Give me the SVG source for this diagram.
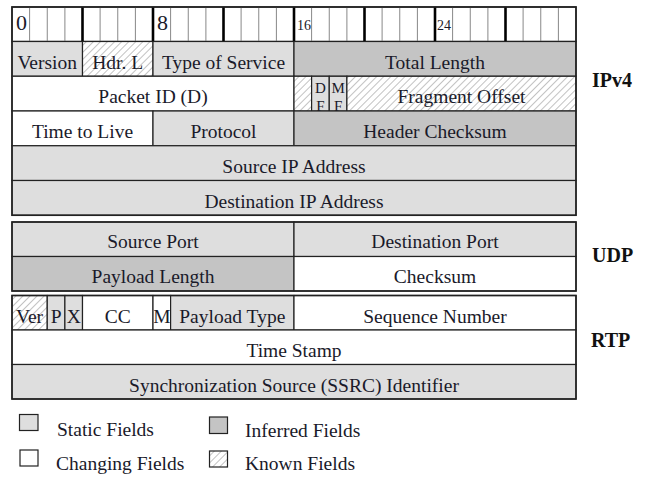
<svg xmlns="http://www.w3.org/2000/svg" width="648" height="477" viewBox="0 0 648 477">
<defs>
<pattern id="hatch" patternUnits="userSpaceOnUse" width="5" height="5" patternTransform="rotate(45)">
<rect width="5" height="5" fill="#ffffff"/>
<line x1="0" y1="0" x2="0" y2="5" stroke="#a8a8a8" stroke-width="1.4"/>
</pattern>
<style>
.cell{stroke:#222;stroke-width:1.2}
.s{fill:#dedede}
.i{fill:#c4c4c4}
.c{fill:#ffffff}
.k{fill:url(#hatch)}
.blk{fill:none;stroke:#222;stroke-width:1.6}
.t{font-family:"Liberation Serif","Times New Roman",serif;font-size:19.5px;fill:#1a1a2a;text-anchor:middle}
.sm{font-family:"Liberation Serif","Times New Roman",serif;font-size:15px;fill:#1a1a2a;text-anchor:middle}
.lg{font-family:"Liberation Serif","Times New Roman",serif;font-size:19.5px;fill:#1a1a2a}
.hd{font-family:"Liberation Serif","Times New Roman",serif;font-size:20px;font-weight:bold;fill:#111}
.num{font-family:"Liberation Serif","Times New Roman",serif;fill:#1a1a2a}
.bit{stroke:#888;stroke-width:1}
.nib{stroke:#000;stroke-width:2.6}
</style>
</defs>

<g id="bit-header">
<rect x="12" y="7" width="564" height="34.5" fill="#fff" stroke="#222" stroke-width="1.4"/>
<g class="bit">
<line x1="29.6" y1="7" x2="29.6" y2="41.5"/><line x1="47.25" y1="7" x2="47.25" y2="41.5"/><line x1="64.9" y1="7" x2="64.9" y2="41.5"/>
<line x1="100.1" y1="7" x2="100.1" y2="41.5"/><line x1="117.75" y1="7" x2="117.75" y2="41.5"/><line x1="135.4" y1="7" x2="135.4" y2="41.5"/>
<line x1="170.6" y1="7" x2="170.6" y2="41.5"/><line x1="188.25" y1="7" x2="188.25" y2="41.5"/><line x1="205.9" y1="7" x2="205.9" y2="41.5"/>
<line x1="241.1" y1="7" x2="241.1" y2="41.5"/><line x1="258.75" y1="7" x2="258.75" y2="41.5"/><line x1="276.4" y1="7" x2="276.4" y2="41.5"/>
<line x1="311.6" y1="7" x2="311.6" y2="41.5"/><line x1="329.25" y1="7" x2="329.25" y2="41.5"/><line x1="346.9" y1="7" x2="346.9" y2="41.5"/>
<line x1="382.1" y1="7" x2="382.1" y2="41.5"/><line x1="399.75" y1="7" x2="399.75" y2="41.5"/><line x1="417.4" y1="7" x2="417.4" y2="41.5"/>
<line x1="452.6" y1="7" x2="452.6" y2="41.5"/><line x1="470.25" y1="7" x2="470.25" y2="41.5"/><line x1="487.9" y1="7" x2="487.9" y2="41.5"/>
<line x1="523.1" y1="7" x2="523.1" y2="41.5"/><line x1="540.75" y1="7" x2="540.75" y2="41.5"/><line x1="558.4" y1="7" x2="558.4" y2="41.5"/>
</g>
<g class="nib">
<line x1="82.5" y1="7" x2="82.5" y2="41.5"/><line x1="153" y1="7" x2="153" y2="41.5"/><line x1="223.5" y1="7" x2="223.5" y2="41.5"/>
<line x1="294" y1="7" x2="294" y2="41.5"/><line x1="364.5" y1="7" x2="364.5" y2="41.5"/><line x1="435" y1="7" x2="435" y2="41.5"/>
<line x1="505.5" y1="7" x2="505.5" y2="41.5"/>
</g>
<text class="num" x="16" y="30" font-size="22">0</text>
<text class="num" x="157" y="30" font-size="22">8</text>
<text class="num" x="297" y="30" font-size="14">16</text>
<text class="num" x="437" y="30" font-size="14">24</text>
</g>

<g id="ipv4-version"><rect class="cell s" x="12" y="41.5" width="70.5" height="34.75"/><text class="t" x="47.25" y="69">Version</text></g>
<g id="ipv4-hdrlen"><rect class="cell k" x="82.5" y="41.5" width="70.5" height="34.75"/><text class="t" x="117.75" y="69">Hdr. L</text></g>
<g id="ipv4-tos"><rect class="cell s" x="153" y="41.5" width="141" height="34.75"/><text class="t" x="223.5" y="69">Type of Service</text></g>
<g id="ipv4-totallen"><rect class="cell i" x="294" y="41.5" width="282" height="34.75"/><text class="t" x="435" y="69">Total Length</text></g>

<g id="ipv4-packetid"><rect class="cell c" x="12" y="76.25" width="282" height="34.75"/><text class="t" x="153" y="103">Packet ID (D)</text></g>
<g id="ipv4-reserved"><rect class="cell k" x="294" y="76.25" width="17.6" height="34.75"/></g>
<g id="ipv4-df"><rect class="cell s" x="311.6" y="76.25" width="17.65" height="34.75"/><text class="sm" x="320.5" y="92.5">D</text><text class="sm" x="320.5" y="110.5">F</text></g>
<g id="ipv4-mf"><rect class="cell s" x="329.25" y="76.25" width="17.65" height="34.75"/><text class="sm" x="338.2" y="92.5">M</text><text class="sm" x="338.2" y="110.5">F</text></g>
<g id="ipv4-fragoffset"><rect class="cell k" x="346.9" y="76.25" width="229.1" height="34.75"/><text class="t" x="461.5" y="103">Fragment Offset</text></g>

<g id="ipv4-ttl"><rect class="cell c" x="12" y="111" width="141" height="34.75"/><text class="t" x="82.5" y="138">Time to Live</text></g>
<g id="ipv4-protocol"><rect class="cell s" x="153" y="111" width="141" height="34.75"/><text class="t" x="223.5" y="138">Protocol</text></g>
<g id="ipv4-checksum"><rect class="cell i" x="294" y="111" width="282" height="34.75"/><text class="t" x="435" y="138">Header Checksum</text></g>

<g id="ipv4-srcip"><rect class="cell s" x="12" y="145.75" width="564" height="34.75"/><text class="t" x="294" y="173">Source IP Address</text></g>
<g id="ipv4-dstip"><rect class="cell s" x="12" y="180.5" width="564" height="34.75"/><text class="t" x="294" y="207.5">Destination IP Address</text></g>
<rect class="blk" x="12" y="7" width="564" height="208.25"/>

<g id="udp-srcport"><rect class="cell s" x="12" y="222" width="282" height="34.5"/><text class="t" x="153" y="248">Source Port</text></g>
<g id="udp-dstport"><rect class="cell s" x="294" y="222" width="282" height="34.5"/><text class="t" x="435" y="248">Destination Port</text></g>
<g id="udp-payloadlen"><rect class="cell i" x="12" y="256.5" width="282" height="34.5"/><text class="t" x="153" y="283">Payload Length</text></g>
<g id="udp-checksum"><rect class="cell c" x="294" y="256.5" width="282" height="34.5"/><text class="t" x="435" y="283">Checksum</text></g>
<rect class="blk" x="12" y="222" width="564" height="69"/>

<g id="rtp-ver"><rect class="cell k" x="12" y="295.5" width="35.25" height="34.5"/><text class="t" x="29.6" y="322.5">Ver</text></g>
<g id="rtp-p"><rect class="cell s" x="47.25" y="295.5" width="17.65" height="34.5"/><text class="t" x="56.1" y="322.5">P</text></g>
<g id="rtp-x"><rect class="cell s" x="64.9" y="295.5" width="17.6" height="34.5"/><text class="t" x="73.7" y="322.5">X</text></g>
<g id="rtp-cc"><rect class="cell c" x="82.5" y="295.5" width="70.5" height="34.5"/><text class="t" x="117.75" y="322.5">CC</text></g>
<g id="rtp-m"><rect class="cell c" x="153" y="295.5" width="17.6" height="34.5"/><text class="t" x="161.8" y="322.5">M</text></g>
<g id="rtp-pt"><rect class="cell s" x="170.6" y="295.5" width="123.4" height="34.5"/><text class="t" x="232.3" y="322.5">Payload Type</text></g>
<g id="rtp-seq"><rect class="cell c" x="294" y="295.5" width="282" height="34.5"/><text class="t" x="435" y="322.5">Sequence Number</text></g>
<g id="rtp-timestamp"><rect class="cell c" x="12" y="330" width="564" height="34.5"/><text class="t" x="294" y="357">Time Stamp</text></g>
<g id="rtp-ssrc"><rect class="cell s" x="12" y="364.5" width="564" height="34.5"/><text class="t" x="294" y="392">Synchronization Source (SSRC) Identifier</text></g>
<rect class="blk" x="12" y="295.5" width="564" height="103.5"/>

<g id="label-ipv4"><text class="hd" x="592" y="87">IPv4</text></g>
<g id="label-udp"><text class="hd" x="592" y="262">UDP</text></g>
<g id="label-rtp"><text class="hd" x="591" y="347">RTP</text></g>

<g id="legend-static"><rect class="cell s" x="19.5" y="414.5" width="18.5" height="16"/><text class="lg" x="57" y="436">Static Fields</text></g>
<g id="legend-changing"><rect class="cell c" x="20" y="450" width="18" height="16"/><text class="lg" x="56" y="470">Changing Fields</text></g>
<g id="legend-inferred"><rect class="cell i" x="209.5" y="417" width="18" height="16.5"/><text class="lg" x="245" y="437">Inferred Fields</text></g>
<g id="legend-known"><rect class="cell k" x="209.5" y="451" width="18" height="16"/><text class="lg" x="245" y="470">Known Fields</text></g>
</svg>
